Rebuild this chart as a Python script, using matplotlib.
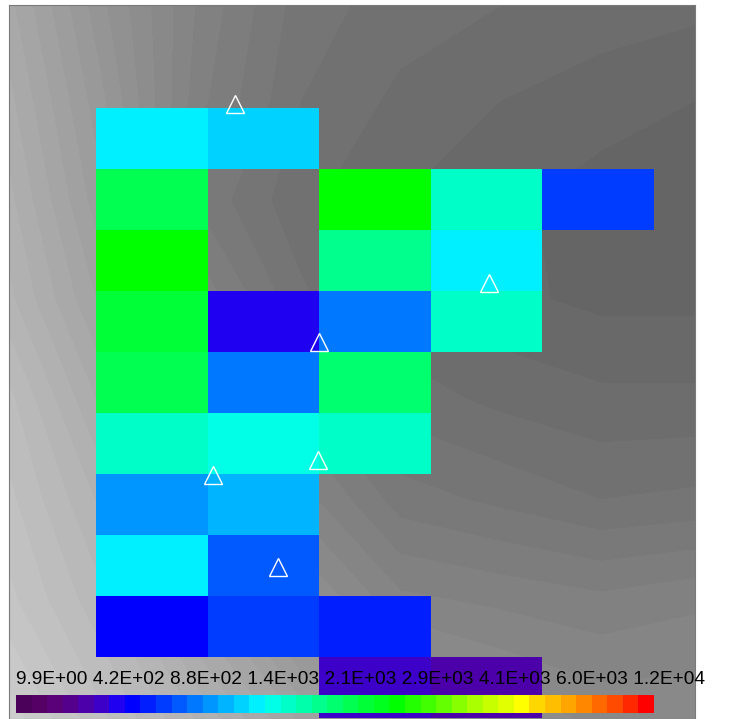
import numpy as np
import matplotlib
matplotlib.use("Agg")
import matplotlib.pyplot as plt
from matplotlib.colors import ListedColormap, BoundaryNorm, Normalize

# ---------------- data ----------------
# class index (0..40) of each grid cell, rows top->bottom, cols left->right; None = no data
cell_classes = [
    [15, 14, None, None, None],
    [21, None, 24, 17, 9],
    [24, None, 19, 15, None],
    [22, 6, 11, 17, None],
    [21, 11, 20, None, None],
    [17, 16, 17, None, None],
    [12, 13, None, None, None],
    [15, 10, None, None, None],
    [7, 9, 8, None, None],
    [None, None, 5, 4, None],
]

# station locations (grid units: column, row)
station_x = [1.245, 3.517, 1.998, 1.048, 1.989, 1.631]
station_y = [-0.066, 2.869, 3.836, 6.016, 5.770, 7.525]

# legend class labels
class_labels = ["9.9E+00", "4.2E+02", "8.8E+02", "1.4E+03", "2.1E+03",
                "2.9E+03", "4.1E+03", "6.0E+03", "1.2E+04"]

# 41 class colours of the legend
class_colors = [
    (75, 0, 90), (85, 0, 100), (90, 0, 120), (85, 0, 140), (75, 0, 170),
    (60, 0, 200), (32, 0, 240), (0, 0, 255), (0, 30, 255), (0, 60, 255),
    (0, 90, 255), (0, 120, 255), (0, 150, 255), (0, 180, 255), (0, 210, 255),
    (0, 240, 255), (0, 255, 230), (0, 255, 200), (0, 255, 170), (0, 255, 140),
    (0, 255, 110), (0, 255, 80), (0, 255, 55), (0, 255, 30), (0, 255, 0),
    (35, 255, 0), (65, 255, 0), (100, 255, 0), (135, 255, 0), (170, 255, 0),
    (200, 255, 0), (225, 255, 0), (255, 255, 0), (255, 215, 0), (255, 190, 0),
    (255, 165, 0), (255, 135, 0), (255, 105, 0), (255, 75, 0), (255, 40, 0),
    (255, 0, 0),
]

# background shaded relief (grey level) sampled on a coarse grid
relief_x = [-0.78, 0.04, 0.93, 1.83, 2.72, 3.62, 4.52, 5.37]
relief_y = [-1.69, -0.13, 1.51, 3.15, 4.79, 6.43, 8.07, 10.02]
relief_grey = [
    [168, 148, 130, 117, 113, 111, 109, 108],
    [172, 152, 128, 115, 110, 107, 105, 103],
    [176, 156, 122, 112, 107, 104, 101, 100],
    [180, 162, 130, 116, 108, 104, 102, 102],
    [188, 170, 142, 124, 113, 110, 108, 108],
    [192, 178, 155, 133, 121, 118, 115, 116],
    [196, 184, 164, 144, 132, 130, 128, 130],
    [205, 192, 178, 162, 150, 142, 138, 138],
]

# ---------------- figure ----------------
W, H = 729, 719
fig = plt.figure(figsize=(W / 100, H / 100), dpi=100)
fig.patch.set_facecolor("white")

ax = fig.add_axes([9 / W, 0, (695 - 9) / W, (719 - 5) / H])

# relief
levels = np.arange(95, 215, 4)
cs = ax.contourf(relief_x, relief_y, np.array(relief_grey, float), levels=levels,
                 cmap="gray", norm=Normalize(0, 255))
cs.set_edgecolor("face")
cs.set_linewidth(0.6)

# cells
cmap = ListedColormap([tuple(c / 255 for c in rgb) for rgb in class_colors])
norm = BoundaryNorm(np.arange(-0.5, len(class_colors) + 0.5), cmap.N)
vals = np.array([[np.nan if v is None else v for v in row] for row in cell_classes], float)
nrows, ncols = vals.shape
ax.pcolormesh(np.arange(ncols + 1), np.arange(nrows + 1), np.ma.masked_invalid(vals),
              cmap=cmap, norm=norm, shading="flat", linewidth=0, antialiased=False)

# stations
ax.plot(station_x, station_y, linestyle="none", marker="^", markersize=13,
        markerfacecolor="none", markeredgecolor="white", markeredgewidth=1.0)

ax.set_xlim(-0.78, 5.367)
ax.set_ylim(10.016, -1.689)
ax.set_xticks([])
ax.set_yticks([])
for s in ax.spines.values():
    s.set_color("#7a7a7a")
    s.set_linewidth(0.8)

# legend colour strip
cax = fig.add_axes([16 / W, (719 - 713) / H, (654 - 16) / W, 18 / H])
cax.imshow(np.arange(len(class_colors))[None, :], cmap=cmap, norm=norm,
           aspect="auto", interpolation="nearest")
cax.set_axis_off()

fig.text(16 / W, 1 - 680 / H, " ".join(class_labels), ha="left", va="center",
         fontsize=13.8, family=["Liberation Sans", "DejaVu Sans"], color="black")

fig.savefig("out.png", dpi=100)
